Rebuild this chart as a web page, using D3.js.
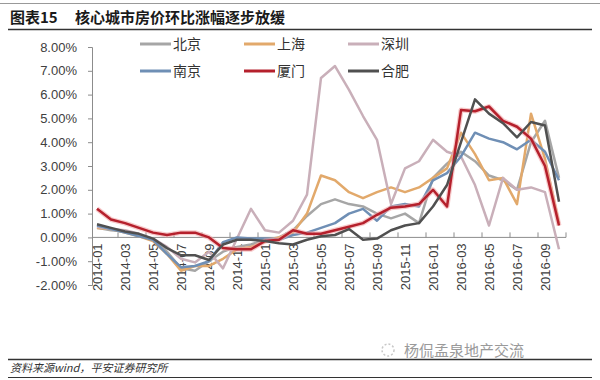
<!DOCTYPE html>
<html>
<head>
<meta charset="UTF-8" />
<title>核心城市房价环比涨幅逐步放缓</title>
<script src="https://d3js.org/d3.v7.min.js"></script>
<style>
  body { margin: 0; background: #fff; }
  svg { display: block; font-family: "Liberation Sans", Arial, "Noto Sans CJK SC", sans-serif; }
</style>
</head>
<body>
<svg id="chart" width="600" height="380"></svg>
<script>
  // months on the category axis
  const months = [
    "2014-01","2014-02","2014-03","2014-04","2014-05","2014-06","2014-07","2014-08","2014-09","2014-10","2014-11","2014-12",
    "2015-01","2015-02","2015-03","2015-04","2015-05","2015-06","2015-07","2015-08","2015-09","2015-10","2015-11","2015-12",
    "2016-01","2016-02","2016-03","2016-04","2016-05","2016-06","2016-07","2016-08","2016-09","2016-10"
  ];
  const yTicks = [-2, -1, 0, 1, 2, 3, 4, 5, 6, 7, 8];

  // month-on-month price change, %
  const beijing  = [0.4, 0.3, 0.25, 0.1, -0.1, -0.6, -1.3, -1.4, -1.0, -0.6, -0.4, -0.3,
                    -0.1, 0.0, 0.3, 0.9, 1.4, 1.6, 1.4, 1.3, 1.0, 0.8, 1.0, 0.6,
                    2.5, 3.1, 3.6, 3.2, 2.6, 2.4, 2.0, 4.0, 4.9, 2.5];
  const shanghai = [0.4, 0.35, 0.2, 0.05, -0.15, -0.7, -1.4, -1.2, -1.2, -0.9, -0.5, -0.4,
                    -0.2, 0.0, 0.2, 1.0, 2.6, 2.4, 1.9, 1.65, 1.9, 2.1, 1.9, 2.1,
                    2.5, 2.9, 4.4, 3.5, 2.4, 2.5, 1.4, 5.2, 3.3, 0.6];
  const shenzhen = [0.45, 0.35, 0.3, 0.15, -0.05, -0.4, -0.9, -1.05, -0.6, -1.3, -0.05, 1.2,
                    0.3, 0.2, 0.7, 1.8, 6.7, 7.2, 6.2, 5.1, 4.1, 1.4, 2.9, 3.2,
                    4.1, 3.6, 3.4, 2.2, 0.5, 2.5, 2.0, 2.1, 1.9, -0.5];
  const nanjing  = [0.5, 0.35, 0.2, 0.05, -0.1, -0.7, -1.25, -1.2, -1.0, -0.2, 0.0, -0.05,
                    -0.05, -0.1, 0.1, 0.2, 0.4, 0.6, 1.0, 1.2, 0.7, 1.3, 1.4, 1.3,
                    2.4, 2.7, 3.4, 4.4, 4.15, 4.0, 3.7, 4.1, 3.6, 2.4];
  const xiamen   = [1.2, 0.75, 0.6, 0.4, 0.2, 0.1, 0.2, 0.2, 0.0, -0.45, -0.5, -0.5,
                    -0.15, -0.1, 0.3, 0.15, 0.15, 0.3, 0.45, 0.6, 0.95, 1.25, 1.3, 1.4,
                    2.0, 1.3, 5.35, 5.3, 5.5, 4.9, 4.65, 4.15, 3.0, 0.5];
  const hefei    = [0.55, 0.4, 0.25, 0.15, -0.05, -0.45, -0.75, -0.75, -0.95, -0.3, -0.1, -0.1,
                    -0.15, -0.25, -0.3, -0.1, 0.05, 0.1, 0.35, -0.1, -0.05, 0.3, 0.5, 0.6,
                    1.3, 2.2, 4.0, 5.8, 5.2, 4.8, 4.2, 4.85, 4.7, 1.5];

  const seriesNames  = ["北京", "上海", "深圳", "南京", "厦门", "合肥"];
  const seriesValues = [beijing, shanghai, shenzhen, nanjing, xiamen, hefei];
  const seriesColors = ["#a6a6a6", "#e2a96b", "#c9afb9", "#6f8fb5", "#b5202c", "#505050"];

  const svg = d3.select("#chart");
  const plotLeft = 90, plotRight = 566, plotTop = 47, plotBottom = 285;

  const x = d3.scalePoint().domain(months).range([plotLeft, plotRight]).padding(0.5);
  const y = d3.scaleLinear().domain([-2, 8]).range([plotBottom, plotTop]);
  const step = x.step();

  // title block
  svg.append("line").attr("x1", 0).attr("x2", 600).attr("y1", 3.5).attr("y2", 3.5)
    .attr("stroke", "#999").attr("stroke-width", 1);
  svg.append("text").attr("x", 10).attr("y", 23)
    .attr("font-family", "'Noto Sans CJK SC', sans-serif").attr("font-size", 15).attr("font-weight", "bold")
    .attr("fill", "#1a1a1a").text("图表15");
  svg.append("text").attr("x", 75).attr("y", 23)
    .attr("font-family", "'Noto Sans CJK SC', sans-serif").attr("font-size", 15).attr("font-weight", "bold")
    .attr("fill", "#1a1a1a").text("核心城市房价环比涨幅逐步放缓");
  svg.append("line").attr("x1", 8).attr("x2", 592).attr("y1", 29.5).attr("y2", 29.5)
    .attr("stroke", "#333").attr("stroke-width", 1.5);

  // y axis
  const yAxis = svg.append("g").attr("transform", `translate(${plotLeft + 2},0)`)
    .call(d3.axisLeft(y).tickValues(yTicks).tickSize(4).tickPadding(11)
      .tickFormat(d => d.toFixed(2) + "%"));
  yAxis.select(".domain").attr("stroke", "#8c8c8c");
  yAxis.selectAll(".tick line").attr("stroke", "#8c8c8c");
  yAxis.selectAll("text").attr("font-size", 13).attr("fill", "#404040");

  // x axis at zero
  const xAxisG = svg.append("g");
  xAxisG.append("line").attr("x1", plotLeft + 2).attr("x2", plotRight).attr("y1", y(0)).attr("y2", y(0))
    .attr("stroke", "#8c8c8c").attr("stroke-width", 1);
  const labelled = months.filter((m, i) => i % 2 === 0);
  xAxisG.selectAll("line.tick").data(labelled.slice(1).concat(["end"])).enter().append("line")
    .attr("class", "tick")
    .attr("x1", d => d === "end" ? plotRight : x(d) - step / 2)
    .attr("x2", d => d === "end" ? plotRight : x(d) - step / 2)
    .attr("y1", y(0)).attr("y2", y(0) - 5)
    .attr("stroke", "#8c8c8c");
  xAxisG.selectAll("text").data(labelled).enter().append("text")
    .attr("transform", d => `translate(${x(d) + 4.5},${y(0) + 6}) rotate(-90)`)
    .attr("text-anchor", "end")
    .attr("font-size", 13).attr("fill", "#404040")
    .text(d => d);

  // lines
  const line = d3.line().x((d, i) => x(months[i])).y(d => y(d));
  const lines = svg.append("g").attr("fill", "none").attr("stroke-linejoin", "round");
  seriesValues.forEach((vals, k) => {
    if (seriesNames[k] === "厦门") {
      lines.append("path").attr("d", line(vals))
        .attr("stroke", "#f2a6a8").attr("stroke-width", 5).attr("opacity", 0.6);
    }
    lines.append("path").attr("d", line(vals))
      .attr("stroke", seriesColors[k]).attr("stroke-width", 2.5);
  });

  // legend
  const legend = svg.append("g");
  seriesNames.forEach((name, k) => {
    const lx = 140 + (k % 3) * 104;
    const ly = k < 3 ? 44 : 71;
    legend.append("line").attr("x1", lx).attr("x2", lx + 31).attr("y1", ly).attr("y2", ly)
      .attr("stroke", seriesColors[k]).attr("stroke-width", 3);
    legend.append("text").attr("x", lx + 33).attr("y", ly + 5)
      .attr("font-family", "'Noto Sans CJK SC', sans-serif").attr("font-size", 14)
      .attr("fill", "#333").text(name);
  });

  // footer
  svg.append("text").attr("x", 404).attr("y", 356)
    .attr("font-family", "'Noto Sans CJK SC', sans-serif").attr("font-size", 15)
    .attr("fill", "#9a9a9a").text("杨侃孟泉地产交流");
  svg.append("circle").attr("cx", 388).attr("cy", 350).attr("r", 6)
    .attr("fill", "none").attr("stroke", "#c8c8c8").attr("stroke-width", 1.5).attr("stroke-dasharray", "2,2");
  svg.append("line").attr("x1", 8).attr("x2", 592).attr("y1", 359.5).attr("y2", 359.5)
    .attr("stroke", "#333").attr("stroke-width", 1.5);
  svg.append("text").attr("x", 10).attr("y", 372)
    .attr("font-family", "'Noto Sans CJK SC', sans-serif").attr("font-size", 11)
    .attr("font-style", "italic").attr("fill", "#333").text("资料来源wind，平安证券研究所");
  svg.append("line").attr("x1", 8).attr("x2", 592).attr("y1", 377.5).attr("y2", 377.5)
    .attr("stroke", "#333").attr("stroke-width", 1);
</script>
</body>
</html>
